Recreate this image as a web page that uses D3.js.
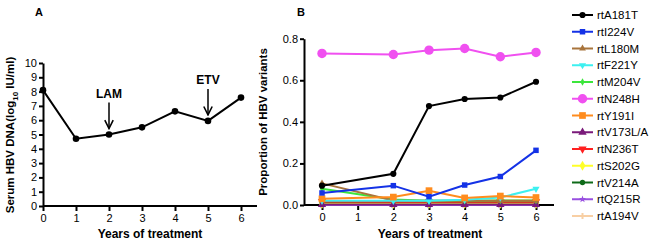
<!DOCTYPE html>
<html>
<head>
<meta charset="utf-8">
<script src="https://cdn.jsdelivr.net/npm/d3@7"></script>
<style>
  body { margin: 0; background: #fff; }
  svg { font-family: "Liberation Sans", Arial, sans-serif; }
  .axis path, .axis line { stroke: #000; stroke-width: 2px; }
  .axis text { font-size: 11px; fill: #000; }
</style>
</head>
<body>
<div class="chart"></div>
<script>
// Panel A data
const yearsA = [0, 1, 2, 3, 4, 5, 6];
const hbvDna = [8.1, 4.7, 5.0, 5.5, 6.62, 5.95, 7.58];
const arrows = [{ label: "LAM", year: 2 }, { label: "ETV", year: 5 }];

// Panel B data
const yearsB = [0, 2, 3, 4, 5, 6];
const variantNames = ["rtA181T", "rtI224V", "rtL180M", "rtF221Y", "rtM204V", "rtN248H", "rtY191I",
  "rtV173L/A", "rtN236T", "rtS202G", "rtV214A", "rtQ215R", "rtA194V"];
const rtA181T = [0.093, 0.15, 0.476, 0.51, 0.517, 0.593];
const rtI224V = [0.058, 0.093, 0.04, 0.096, 0.137, 0.263];
const rtL180M = [0.104, 0.022, 0.02, 0.02, 0.02, 0.02];
const rtF221Y = [0.02, 0.02, 0.02, 0.025, 0.036, 0.078];
const rtM204V = [0.078, 0.027, 0.02, 0.02, 0.022, 0.022];
const rtN248H = [0.729, 0.724, 0.745, 0.753, 0.713, 0.734];
const rtY191I = [0.03, 0.038, 0.069, 0.034, 0.043, 0.036];
const rtV173L = [0.002, 0.002, 0.002, 0.002, 0.002, 0.002];
const rtN236T = [0.017, 0.016, 0.016, 0.016, 0.016, 0.016];
const rtS202G = [0.006, 0.006, 0.006, 0.006, 0.006, 0.006];
const rtV214A = [0.01, 0.01, 0.01, 0.01, 0.01, 0.01];
const rtQ215R = [0.0, 0.0, 0.0, 0.0, 0.0, 0.0];
const rtA194V = [0.004, 0.004, 0.004, 0.004, 0.004, 0.004];
const variantValues = [rtA181T, rtI224V, rtL180M, rtF221Y, rtM204V, rtN248H, rtY191I,
  rtV173L, rtN236T, rtS202G, rtV214A, rtQ215R, rtA194V];

const colors = ["#000000", "#1432e6", "#a8743c", "#3cf0f0", "#3ce63c", "#f050f0", "#ff8c1e",
  "#7a1a7a", "#ff2020", "#ffff28", "#0e6a18", "#9850e0", "#f8cfa4"];
const symbols = [
  { t: d3.symbolCircle, s: 30, r: 0 }, { t: d3.symbolSquare, s: 30, r: 0 },
  { t: d3.symbolTriangle, s: 20, r: 0 }, { t: d3.symbolTriangle, s: 22, r: 180 },
  { t: d3.symbolDiamond, s: 16, r: 0 }, { t: d3.symbolCircle, s: 70, r: 0 },
  { t: d3.symbolSquare, s: 45, r: 0 }, { t: d3.symbolTriangle, s: 30, r: 0 },
  { t: d3.symbolTriangle, s: 30, r: 180 }, { t: d3.symbolDiamond, s: 30, r: 0 },
  { t: d3.symbolCircle, s: 22, r: 0 }, { t: d3.symbolStar, s: 16, r: 0 },
  { t: d3.symbolCross, s: 20, r: 0 }
];

const W = 650, H = 241;
const svg = d3.select(".chart").append("svg").attr("width", W).attr("height", H);

// ---------- Panel A ----------
const xA = d3.scaleLinear().domain([0, 6]).range([43, 241]);
const yA = d3.scaleLinear().domain([0, 10]).range([206, 63]);

svg.append("g").attr("class", "axis")
  .attr("transform", "translate(0,206)")
  .call(d3.axisBottom(xA).ticks(7).tickSize(5).tickSizeOuter(0))
  .call(g => g.select(".domain").attr("d", "M43,0H257"));
svg.append("g").attr("class", "axis")
  .attr("transform", "translate(43,0)")
  .call(d3.axisLeft(yA).ticks(10).tickSize(4).tickSizeOuter(0).tickPadding(2));

svg.append("path")
  .datum(yearsA.map((y, i) => [y, hbvDna[i]]))
  .attr("fill", "none").attr("stroke", "#000").attr("stroke-width", 2)
  .attr("d", d3.line().x(d => xA(d[0])).y(d => yA(d[1])));
svg.selectAll(".ptA").data(yearsA).enter().append("circle")
  .attr("cx", d => xA(d)).attr("cy", (d, i) => yA(hbvDna[i])).attr("r", 3.3).attr("fill", "#000");

// arrows
svg.append("defs").append("marker")
  .attr("id", "ah").attr("viewBox", "0 0 10 10").attr("refX", 9).attr("refY", 5)
  .attr("markerWidth", 7).attr("markerHeight", 7).attr("orient", "auto")
  .append("path").attr("d", "M1,1L9,5L1,9").attr("fill", "none").attr("stroke", "#000").attr("stroke-width", 1.5);
arrows.forEach(a => {
  const i = yearsA.indexOf(a.year);
  const yEnd = yA(hbvDna[i]) - 6;
  svg.append("line").attr("x1", xA(a.year)).attr("x2", xA(a.year))
    .attr("y1", yEnd - 26).attr("y2", yEnd)
    .attr("stroke", "#000").attr("stroke-width", 1.5).attr("marker-end", "url(#ah)");
  svg.append("text").attr("x", xA(a.year)).attr("y", yEnd - 31)
    .attr("text-anchor", "middle").style("font-size", "12px").style("font-weight", "bold")
    .text(a.label);
});

svg.append("text").attr("x", 35).attr("y", 16).style("font-size", "11px").style("font-weight", "bold").text("A");
svg.append("text").attr("x", 150).attr("y", 238).attr("text-anchor", "middle")
  .style("font-size", "12px").style("font-weight", "bold").text("Years of treatment");
const yLabA = svg.append("text").attr("transform", "translate(14,135) rotate(-90)")
  .attr("text-anchor", "middle").style("font-size", "11.5px").style("font-weight", "bold");
yLabA.append("tspan").text("Serum HBV DNA(log");
yLabA.append("tspan").attr("dy", 4).style("font-size", "8px").text("10");
yLabA.append("tspan").attr("dy", -4).text(" IU/ml)");

// ---------- Panel B ----------
const xB = d3.scaleLinear().domain([0, 6]).range([322, 536]);
const yB = d3.scaleLinear().domain([0, 0.8]).range([205, 38.7]);

svg.append("g").attr("class", "axis")
  .attr("transform", "translate(0,205)")
  .call(d3.axisBottom(xB).ticks(7).tickSize(5).tickSizeOuter(0))
  .call(g => g.select(".domain").attr("d", "M304,0H554"));
svg.append("g").attr("class", "axis")
  .attr("transform", "translate(304,0)")
  .call(d3.axisLeft(yB).tickValues([0, 0.2, 0.4, 0.6, 0.8]).tickFormat(d3.format(".1f"))
    .tickSize(4).tickSizeOuter(0).tickPadding(2));

const lineB = d3.line().x(d => xB(d[0])).y(d => yB(d[1]));
const drawOrder = [12, 11, 10, 9, 8, 7, 4, 2, 3, 6, 1, 0, 5];
drawOrder.forEach(k => {
  const pts = yearsB.map((y, i) => [y, variantValues[k][i]]);
  const g = svg.append("g");
  g.append("path").datum(pts).attr("fill", "none").attr("stroke", colors[k]).attr("stroke-width", 2).attr("d", lineB);
  g.selectAll("path.m").data(pts).enter().append("path").attr("class", "m")
    .attr("d", d3.symbol().type(symbols[k].t).size(symbols[k].s))
    .attr("transform", d => `translate(${xB(d[0])},${yB(d[1])}) rotate(${symbols[k].r})`)
    .attr("fill", colors[k]);
});

svg.append("text").attr("x", 297).attr("y", 16).style("font-size", "11px").style("font-weight", "bold").text("B");
svg.append("text").attr("x", 430).attr("y", 238).attr("text-anchor", "middle")
  .style("font-size", "12px").style("font-weight", "bold").text("Years of treatment");
svg.append("text").attr("transform", "translate(267,122) rotate(-90)")
  .attr("text-anchor", "middle").style("font-size", "11.5px").style("font-weight", "bold")
  .text("Proportion of HBV variants");

// legend
const legend = svg.append("g").attr("transform", "translate(572,15)");
variantNames.forEach((name, k) => {
  const row = legend.append("g").attr("transform", `translate(0,${k * 16.75})`);
  row.append("line").attr("x1", 0).attr("x2", 21).attr("stroke", colors[k]).attr("stroke-width", 2);
  row.append("path").attr("d", d3.symbol().type(symbols[k].t).size(symbols[k].s))
    .attr("transform", `translate(10.5,0) rotate(${symbols[k].r})`).attr("fill", colors[k]);
  row.append("text").attr("x", 25).attr("y", 4).style("font-size", "11.5px").text(name);
});
</script>
</body>
</html>
